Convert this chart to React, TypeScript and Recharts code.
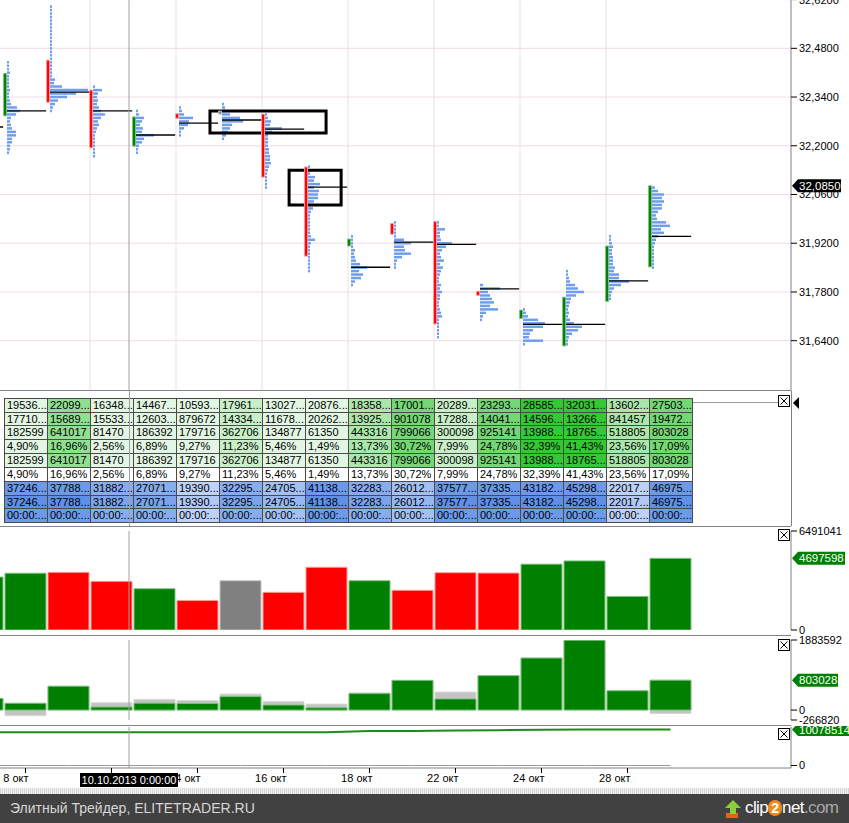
import React from 'react';
import {
  ComposedChart,
  Bar,
  Line,
  XAxis,
  YAxis,
  CartesianGrid,
  ReferenceArea,
  ReferenceLine,
  Cell,
} from 'recharts';

const FONT = '"Liberation Sans", Arial, sans-serif';

// ---------- DATA (index 0 = 7 Oct, 1..16 = 8..29 Oct 2013) ----------
const DAY_NUMS = [7, 8, 9, 10, 11, 14, 15, 16, 17, 18, 21, 22, 23, 24, 25, 28, 29];
const MONTH = 'окт';

const OPEN = [32.21, 32.286, 32.446, 32.36, 32.199, 32.292, 32.291, 32.291, 32.139, 31.912, 31.977, 31.982, 31.782, 31.704, 31.625, 31.753, 31.852];
const CLOSE = [32.27, 32.408, 32.325, 32.194, 32.283, 32.279, 32.291, 32.11, 31.883, 31.932, 31.946, 31.688, 31.77, 31.728, 31.765, 31.912, 32.085];
const POC = [32.254, 32.3, 32.354, 32.3, 32.231, 32.265, 32.274, 32.248, 32.081, 31.851, 31.923, 31.917, 31.789, 31.687, 31.687, 31.812, 31.94];

// volume profile: top price of each day's profile, then volume per 0.01 price level (top -> bottom)
const PROFILE_HIGH = [32.25, 32.44, 32.6, 32.37, 32.3, 32.31, 32.32, 32.29, 32.14, 31.94, 31.98, 31.98, 31.8, 31.73, 31.84, 31.94, 32.08];
const PROFILE_STEP = 0.01;
const P_1007: number[] = [];
const P_1008 = [2, 2, 2, 3, 2, 2, 2, 2, 3, 2, 2, 3, 4, 10, 13, 9, 4, 3, 4, 5, 9, 9, 5, 5, 3, 3, 2];
const P_1009 = [2, 2, 2, 2, 2, 2, 2, 2, 2, 2, 2, 2, 2, 2, 2, 2, 2, 2, 2, 2, 2, 5, 4, 12, 38, 26, 17, 8, 5, 3, 2];
const P_1010 = [2, 9, 5, 4, 5, 4, 6, 8, 12, 8, 5, 6, 4, 3, 2, 2, 2, 2, 2, 2, 2];
const P_1011 = [2, 3, 8, 6, 4, 7, 6, 18, 8, 6, 3, 2, 2];
const P_1014 = [2, 3, 5, 14, 10, 9, 5, 2, 2];
const P_1015 = [2, 3, 4, 8, 18, 21, 10, 8, 6, 4, 2];
const P_1016 = [2, 3, 6, 5, 17, 7, 3, 3, 3, 3, 4, 4, 5, 5, 6, 4, 3, 2, 2, 2, 2, 2];
const P_1017 = [2, 2, 2, 7, 6, 12, 6, 11, 10, 10, 6, 3, 5, 3, 2, 2, 2, 2, 2, 2, 3, 7, 3, 2, 2, 2, 2, 2, 2, 2, 2];
const P_1018 = [2, 2, 2, 2, 4, 3, 4, 5, 9, 16, 8, 12, 10, 4, 2];
const P_1021 = [2, 2, 2, 2, 2, 10, 17, 10, 11, 17, 8, 3, 2, 2];
const P_1022 = [2, 2, 8, 3, 3, 4, 15, 9, 5, 3, 4, 7, 3, 6, 4, 3, 2, 2, 4, 3, 5, 3, 3, 2, 2, 3, 4, 5, 2, 2, 2, 2, 2, 2];
const P_1023 = [3, 20, 8, 10, 12, 14, 10, 18, 6, 3, 2];
const P_1024 = [2, 3, 5, 15, 22, 20, 10, 7, 6, 20, 2];
const P_1025 = [2, 2, 3, 4, 9, 12, 18, 10, 5, 4, 3, 2, 3, 2, 4, 8, 16, 12, 6, 3, 2, 2];
const P_1028 = [2, 2, 3, 4, 3, 3, 4, 4, 4, 6, 5, 10, 10, 20, 12, 5, 3, 2, 2];
const P_1029 = [3, 6, 12, 10, 12, 10, 10, 6, 4, 5, 14, 18, 9, 12, 6, 4, 3, 2, 2, 2, 2, 2, 2, 2];
const PROFILES = [P_1007, P_1008, P_1009, P_1010, P_1011, P_1014, P_1015, P_1016, P_1017, P_1018, P_1021, P_1022, P_1023, P_1024, P_1025, P_1028, P_1029];

const VOLUME = [3470000, 3724620, 3778830, 3188240, 2707160, 1939060, 3229530, 2470560, 4113810, 3228390, 2601220, 3757730, 3733520, 4318240, 4529890, 2201720, 4697598];
const DELTA = [314000, 182599, 641017, 81470, 186392, 179716, 362706, 134877, 61350, 443316, 799066, 300098, 925141, 1398880, 1876500, 518805, 803028];
const DELTA_LOW = [0, -150000, 0, 0, -20000, 0, 0, 0, -15000, 0, 0, 0, 0, 0, 0, 0, -90000];
const DELTA_HIGH = [314000, 182599, 641017, 197000, 287000, 260000, 430000, 233000, 161000, 466000, 799066, 484000, 925141, 1398880, 1876500, 518805, 803028];
const CUM_DELTA = [9280000, 9280000, 9285000, 9290000, 9290000, 9295000, 9300000, 9305000, 9310000, 9660000, 9680000, 9780000, 9900000, 10000000, 10070000, 10075000, 10078514];
const BASELINE = [0, 0, 0, 0, 0, 0, 0, 0, 0, 0, 0, 0, 0, 0, 0, 0, 0];

// table (8..29 Oct)
const BUY = [1953688, 2209923, 1634820, 1446734, 1059388, 1796117, 1302766, 2087634, 1835854, 1700144, 2028940, 2329332, 2858500, 3203195, 1360262, 2750300];
const SELL = [1771089, 1568906, 1553350, 1260342, 879672, 1433411, 1167889, 2026284, 1392538, 901078, 1728842, 1404191, 1459620, 1326695, 841457, 1947272];
const PCT = [4.9, 16.96, 2.56, 6.89, 9.27, 11.23, 5.46, 1.49, 13.73, 30.72, 7.99, 24.78, 32.39, 41.43, 23.56, 17.09];
const TIME_TEXT = '00:00:...';

// axes
const X_DOMAIN = [-0.593, 17.802];
const PRICE_DOMAIN = [31.4955, 32.6188];
const PRICE_TICKS = [31.64, 31.78, 31.92, 32.06, 32.2, 32.34, 32.48, 32.62];
const GRID_X = [-0.5, 1.5, 3.5, 5.5, 7.5, 9.5, 11.5, 13.5];
const X_TICKS = [0, 2, 4, 6, 8, 10, 12, 14];
const VOLUME_DOMAIN = [0, 6491041];
const VOLUME_TICKS = [0, 6491041];
const DELTA_DOMAIN = [-266820, 1883592];
const DELTA_TICKS = [-266820, 0, 1883592];
const CUM_DOMAIN = [-699900, 10778411];
const CUM_TICKS = [0];
const CUM_LAST = 10078514;
const CURSOR_DAY = 2.407;
const CURSOR_LABEL = '10.10.2013 0:00:00';
const MARKED_ZONES = [
  { x1: 4.29, x2: 6.99, y1: 32.237, y2: 32.3 },
  { x1: 6.13, x2: 7.34, y1: 32.03, y2: 32.13 },
];

// ---------- styling ----------
const UP = '#008000';
const DOWN = '#ff0000';
const FLAT = '#808080';
const UP_EDGE = '#7fc07f';
const DOWN_EDGE = '#ff9a9a';
const FLAT_EDGE = '#c4c4c4';
const PROFILE_COLOR = '#6f9eee';
const PROFILE_PX = 1 / 43;
const CANDLE_SHIFT = -0.475;
const PROFILE_SHIFT = -0.43;
const POC_END = 0.48;
const CHART_W = 849;
const AXIS_W = 58;

const dirColor = (i: number) => (CLOSE[i] > OPEN[i] ? UP : CLOSE[i] < OPEN[i] ? DOWN : FLAT);
const dirEdge = (i: number) => (CLOSE[i] > OPEN[i] ? UP_EDGE : CLOSE[i] < OPEN[i] ? DOWN_EDGE : FLAT_EDGE);
const fmtPrice = (v: number) => v.toFixed(4).replace('.', ',');
const fmtNum = (n: number) => {
  const s = String(n);
  return s.length > 6 ? s.slice(0, 5) + '...' : s;
};
const fmtPct = (p: number) => p.toFixed(2).replace('.', ',') + '%';

const tickStyle = { fontSize: 11, fill: '#000', fontFamily: FONT };

function Badge(props: any) {
  const { viewBox, text, color, w } = props;
  if (!viewBox) return null;
  const x0 = viewBox.x + viewBox.width + 1;
  const y = viewBox.y;
  const h = 13;
  return (
    <g>
      <polygon
        points={`${x0},${y} ${x0 + 6},${y - h / 2} ${x0 + w},${y - h / 2} ${x0 + w},${y + h / 2} ${x0 + 6},${y + h / 2}`}
        fill={color}
      />
      <text x={x0 + 7} y={y} dy="0.36em" fill="#fff" fontSize={11.5} fontFamily={FONT}>
        {text}
      </text>
    </g>
  );
}

function XTick(props: any) {
  const { x, y, payload } = props;
  const k = payload.value as number;
  return (
    <text x={x + 3} y={y} dy="0.71em" textAnchor="end" fontSize={11} fill="#000" fontFamily={FONT}>
      {`${DAY_NUMS[k + 1]} ${MONTH}`}
    </text>
  );
}

function CloseBox({ left, top }: { left: number; top: number }) {
  return (
    <svg style={{ position: 'absolute', left, top }} width={12} height={12}>
      <rect x={0.5} y={0.5} width={11} height={11} fill="#fff" stroke="#000" />
      <line x1={2.5} y1={2.5} x2={9.5} y2={9.5} stroke="#000" />
      <line x1={9.5} y1={2.5} x2={2.5} y2={9.5} stroke="#000" />
    </svg>
  );
}

function greenShade(d: number) {
  if (d >= 1000000) return '#34c934';
  if (d >= 700000) return '#74d674';
  if (d >= 600000) return '#90de90';
  if (d >= 400000) return '#abe6ab';
  if (d >= 250000) return '#c8efc8';
  return '#e3f6e3';
}
function blueShade(v: number, dark: boolean) {
  if (v >= 3300000) return dark ? '#5f8fe6' : '#6d99e9';
  if (v >= 2700000) return dark ? '#7ba3ec' : '#88adef';
  if (v >= 2300000) return dark ? '#97b7f1' : '#a4c0f3';
  return dark ? '#b1c8f5' : '#bed2f7';
}

function cellText(r: number, c: number) {
  const i = c + 1;
  switch (r) {
    case 0: return fmtNum(BUY[c]);
    case 1: return fmtNum(SELL[c]);
    case 2: return fmtNum(DELTA[i]);
    case 3: return fmtPct(PCT[c]);
    case 4: return fmtNum(DELTA[i]);
    case 5: return fmtPct(PCT[c]);
    case 6: return fmtNum(VOLUME[i]);
    case 7: return fmtNum(VOLUME[i]);
    default: return TIME_TEXT;
  }
}
function cellBg(r: number, c: number) {
  const i = c + 1;
  if (r <= 4) return greenShade(DELTA[i]);
  if (r === 5) return '#ffffff';
  return blueShade(VOLUME[i], r === 7);
}

export default function App() {
  const candleData = OPEN.map((o, i) => ({
    x: i - 1 + CANDLE_SHIFT,
    body: [Math.min(o, CLOSE[i]), Math.max(o, CLOSE[i])],
  }));
  const volData = VOLUME.map((v, i) => ({ x: i - 1, v }));
  const deltaData = DELTA.map((d, i) => ({ x: i - 1, d, range: [DELTA_LOW[i], DELTA_HIGH[i]] }));
  const cumData = CUM_DELTA.map((c, i) => ({ x: i - 1, c, b: BASELINE[i] }));
  const last = OPEN.length - 1;

  const profileAreas = PROFILES.flatMap((prof, i) =>
    prof.map((v, j) => {
      const p = PROFILE_HIGH[i] - j * PROFILE_STEP;
      const x1 = i - 1 + PROFILE_SHIFT;
      return (
        <ReferenceArea
          key={`p${i}-${j}`}
          x1={x1}
          x2={x1 + v * PROFILE_PX}
          y1={p - 0.0036}
          y2={p + 0.0036}
          fill={PROFILE_COLOR}
          fillOpacity={1}
          stroke="none"
          ifOverflow="hidden"
        />
      );
    })
  );

  const pocLines = POC.map((p, i) => (
    <ReferenceLine
      key={`poc${i}`}
      segment={[
        { x: i - 1 + PROFILE_SHIFT, y: p },
        { x: i - 1 + POC_END, y: p },
      ]}
      stroke="#000"
      strokeWidth={1.3}
      ifOverflow="hidden"
    />
  ));

  const sep = (top: number) => (
    <div style={{ position: 'absolute', left: 0, top, width: 791, height: 1, background: '#858585' }} />
  );

  return (
    <div
      style={{
        position: 'absolute',
        left: 0,
        top: 0,
        width: 849,
        height: 823,
        background: '#fff',
        overflow: 'hidden',
        fontFamily: FONT,
      }}
    >
      {/* price panel */}
      <div style={{ position: 'absolute', left: 0, top: 0 }}>
        <ComposedChart width={CHART_W} height={391} data={candleData} margin={{ top: 0, right: 0, bottom: 0, left: 0 }}>
          <CartesianGrid stroke="#eddde3" horizontalValues={PRICE_TICKS} verticalValues={GRID_X} />
          <XAxis type="number" dataKey="x" domain={X_DOMAIN} allowDataOverflow hide />
          <YAxis
            orientation="right"
            width={AXIS_W}
            domain={PRICE_DOMAIN}
            allowDataOverflow
            ticks={PRICE_TICKS}
            interval={0}
            tickFormatter={fmtPrice}
            tick={tickStyle}
            tickSize={6}
            tickMargin={2}
            axisLine={{ stroke: '#808080' }}
            tickLine={{ stroke: '#000' }}
          />
          {profileAreas}
          <Bar dataKey="body" barSize={3} minPointSize={3} isAnimationActive={false}>
            {candleData.map((_, i) => (
              <Cell key={i} fill={dirColor(i)} stroke={dirEdge(i)} strokeWidth={1} />
            ))}
          </Bar>
          {pocLines}
          {MARKED_ZONES.map((z, i) => (
            <ReferenceArea
              key={`z${i}`}
              x1={z.x1}
              x2={z.x2}
              y1={z.y1}
              y2={z.y2}
              fill="none"
              fillOpacity={0}
              stroke="#000"
              strokeWidth={3}
              ifOverflow="visible"
            />
          ))}
          <ReferenceLine x={CURSOR_DAY} stroke="#a0a0a0" ifOverflow="hidden" />
          <ReferenceLine
            y={CLOSE[last]}
            stroke="none"
            ifOverflow="visible"
            label={<Badge text={fmtPrice(CLOSE[last])} color="#000" w={49} />}
          />
        </ComposedChart>
      </div>
      {sep(390)}

      {/* table panel */}
      <div style={{ position: 'absolute', left: 791, top: 391, width: 1, height: 135, background: '#808080' }} />
      <div style={{ position: 'absolute', left: 692, top: 402, width: 86, height: 1, background: '#9a9a9a' }} />
      <div style={{ position: 'absolute', left: 4, top: 397.7 }}>
        {Array.from({ length: 9 }).map((_, r) =>
          BUY.map((__, c) => (
            <div
              key={`${r}-${c}`}
              style={{
                position: 'absolute',
                left: c * 43,
                top: r * 13.85,
                width: 44,
                height: 14.85,
                boxSizing: 'border-box',
                border: '1px solid #4a4a4a',
                background: cellBg(r, c),
                fontSize: 11,
                lineHeight: '13px',
                paddingLeft: 2,
                overflow: 'hidden',
                whiteSpace: 'nowrap',
                color: '#000',
                fontFamily: FONT,
              }}
            >
              {cellText(r, c)}
            </div>
          ))
        )}
      </div>
      <div style={{ position: 'absolute', left: 129, top: 391, width: 1, height: 135, background: '#a0a0a0' }} />
      <CloseBox left={778} top={395} />
      <svg style={{ position: 'absolute', left: 792, top: 396 }} width={8} height={14}>
        <polygon points="1,7 7,1 7,13" fill="#000" />
      </svg>
      {sep(526)}

      {/* volume panel (plot 531..630) */}
      <div style={{ position: 'absolute', left: 0, top: 520 }}>
        <ComposedChart width={CHART_W} height={121} data={volData} margin={{ top: 11, right: 0, bottom: 11, left: 0 }}>
          <XAxis type="number" dataKey="x" domain={X_DOMAIN} allowDataOverflow hide />
          <YAxis
            orientation="right"
            width={AXIS_W}
            domain={VOLUME_DOMAIN}
            allowDataOverflow
            ticks={VOLUME_TICKS}
            interval={0}
            tick={tickStyle}
            tickSize={6}
            tickMargin={2}
            axisLine={{ stroke: '#808080' }}
            tickLine={{ stroke: '#000' }}
          />
          <Bar dataKey="v" barSize={41} isAnimationActive={false}>
            {volData.map((_, i) => (
              <Cell key={i} fill={dirColor(i)} stroke={dirEdge(i)} strokeWidth={1} />
            ))}
          </Bar>
          <ReferenceLine x={CURSOR_DAY} stroke="#a0a0a0" ifOverflow="hidden" />
          <ReferenceLine
            y={VOLUME[last]}
            stroke="none"
            ifOverflow="visible"
            label={<Badge text={String(VOLUME[last])} color={UP} w={53} />}
          />
        </ComposedChart>
      </div>
      <CloseBox left={778} top={529} />
      {sep(635)}

      {/* delta panel (plot 640..720) */}
      <div style={{ position: 'absolute', left: 0, top: 630 }}>
        <ComposedChart width={CHART_W} height={100} data={deltaData} margin={{ top: 10, right: 0, bottom: 10, left: 0 }}>
          <XAxis xAxisId="g" type="number" dataKey="x" domain={X_DOMAIN} allowDataOverflow hide />
          <XAxis xAxisId="d" type="number" dataKey="x" domain={X_DOMAIN} allowDataOverflow hide />
          <YAxis
            orientation="right"
            width={AXIS_W}
            domain={DELTA_DOMAIN}
            allowDataOverflow
            ticks={DELTA_TICKS}
            interval={0}
            tick={tickStyle}
            tickSize={6}
            tickMargin={2}
            axisLine={{ stroke: '#808080' }}
            tickLine={{ stroke: '#000' }}
          />
          <Bar xAxisId="g" dataKey="range" barSize={41} fill="#c4c4c4" stroke="#d8d8d8" isAnimationActive={false} />
          <Bar xAxisId="d" dataKey="d" barSize={41} fill={UP} stroke={UP_EDGE} isAnimationActive={false} />
          <ReferenceLine xAxisId="d" x={CURSOR_DAY} stroke="#a0a0a0" ifOverflow="hidden" />
          <ReferenceLine
            xAxisId="d"
            y={DELTA[last]}
            stroke="none"
            ifOverflow="visible"
            label={<Badge text={String(DELTA[last])} color={UP} w={46} />}
          />
        </ComposedChart>
      </div>
      <CloseBox left={778} top={639} />
      {sep(725)}

      {/* cumulative panel + date axis */}
      <div style={{ position: 'absolute', left: 0, top: 726 }}>
        <ComposedChart width={CHART_W} height={69} data={cumData} margin={{ top: 1, right: 0, bottom: 0, left: 0 }}>
          <XAxis
            type="number"
            dataKey="x"
            domain={X_DOMAIN}
            allowDataOverflow
            ticks={X_TICKS}
            interval={0}
            height={27}
            tickSize={5}
            tickMargin={1}
            axisLine={{ stroke: '#808080' }}
            tickLine={{ stroke: '#000' }}
            tick={<XTick />}
          />
          <YAxis
            orientation="right"
            width={AXIS_W}
            domain={CUM_DOMAIN}
            allowDataOverflow
            ticks={CUM_TICKS}
            interval={0}
            tick={tickStyle}
            tickSize={6}
            tickMargin={2}
            axisLine={{ stroke: '#808080' }}
            tickLine={{ stroke: '#000' }}
          />
          <Line dataKey="b" stroke="#9a9a9a" strokeWidth={1} dot={false} isAnimationActive={false} />
          <Line dataKey="c" stroke="#1b8c1b" strokeWidth={2} dot={false} isAnimationActive={false} />
          <ReferenceLine x={CURSOR_DAY} stroke="#a0a0a0" ifOverflow="hidden" />
          <ReferenceLine
            y={CUM_LAST}
            stroke="none"
            ifOverflow="visible"
            label={<Badge text={String(CUM_LAST)} color={UP} w={60} />}
          />
        </ComposedChart>
      </div>
      <CloseBox left={778} top={728} />

      {/* cursor date box */}
      <div
        style={{
          position: 'absolute',
          left: 80,
          top: 773,
          width: 98,
          height: 14,
          background: '#000',
          color: '#fff',
          fontSize: 11,
          lineHeight: '14px',
          textAlign: 'center',
          fontFamily: FONT,
          whiteSpace: 'nowrap',
        }}
      >
        {CURSOR_LABEL}
      </div>

      {/* footer */}
      <div
        style={{
          position: 'absolute',
          left: 0,
          top: 788,
          width: 849,
          height: 6,
          background: 'repeating-linear-gradient(90deg, #d6d6d6 0px, #d6d6d6 1px, #f2f2f2 1px, #f2f2f2 2px)',
        }}
      />
      <div style={{ position: 'absolute', left: 0, top: 794, width: 849, height: 29, background: '#414141' }}>
        <span
          style={{
            position: 'absolute',
            left: 10,
            top: 6,
            color: '#d6d6d6',
            fontSize: 14,
            fontFamily: FONT,
            whiteSpace: 'nowrap',
          }}
        >
          Элитный Трейдер, ELITETRADER.RU
        </span>
        <svg style={{ position: 'absolute', left: 725, top: 5 }} width={18} height={20}>
          <rect x={1} y={14} width={12} height={5} fill="#e8601c" />
          <polygon points="8,1 16,9 11,9 11,15 5,15 5,9 0,9" fill="#8ccf3a" />
        </svg>
        <span
          style={{
            position: 'absolute',
            left: 745,
            top: 4,
            fontSize: 17,
            fontFamily: FONT,
            color: '#fff',
            whiteSpace: 'nowrap',
            letterSpacing: -0.6,
          }}
        >
          clip
          <span
            style={{
              display: 'inline-block',
              width: 14,
              height: 16,
              borderRadius: 8,
              background: '#f08a1c',
              textAlign: 'center',
              lineHeight: '16px',
              fontSize: 14,
              fontWeight: 'bold',
              letterSpacing: 0,
            }}
          >
            2
          </span>
          net<span style={{ color: '#a9a9a9' }}>.com</span>
        </span>
      </div>
    </div>
  );
}
